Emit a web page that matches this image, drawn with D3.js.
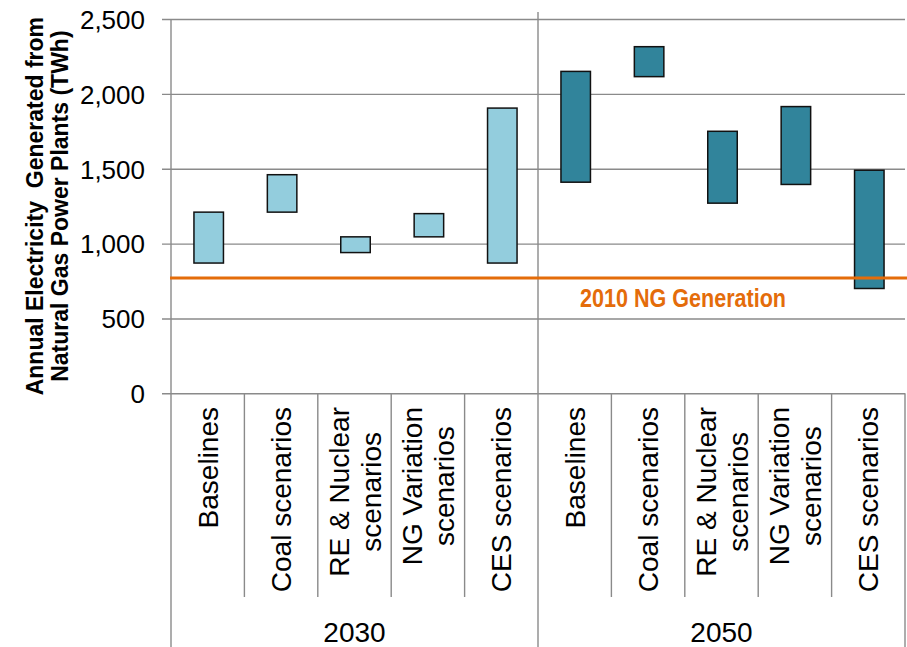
<!DOCTYPE html>
<html>
<head>
<meta charset="utf-8">
<script src="https://cdn.jsdelivr.net/npm/d3@7"></script>
<style>
  body { margin: 0; background: #fff; }
  svg { display: block; font-family: "Liberation Sans", Arial, sans-serif; }
</style>
</head>
<body>
<script>
// scenario groups along the x axis
const years = ['2030', '2050'];
const scenarioLines = [
  ['Baselines'],
  ['Coal scenarios'],
  ['RE & Nuclear', 'scenarios'],
  ['NG Variation', 'scenarios'],
  ['CES scenarios']
];

// range of NG generation, TWh (low / high end of each box)
const low2030 = [870, 1210, 940, 1045, 870];
const high2030 = [1210, 1460, 1045, 1200, 1905];
const low2050 = [1410, 2115, 1270, 1395, 700];
const high2050 = [2150, 2315, 1750, 1915, 1490];

const ng2010 = 770;
const ng2010Label = '2010 NG Generation';
const yTicks = [0, 500, 1000, 1500, 2000, 2500];

const width = 907,
      height = 647,
      plot = { left: 171, right: 905, top: 19, bottom: 393.3 };

const rows = [];
years.forEach(function(year, g) {
  const lo = g === 0 ? low2030 : low2050,
        hi = g === 0 ? high2030 : high2050;
  scenarioLines.forEach(function(lines, i) {
    rows.push({ key: year + '-' + i, year: year, group: g, lines: lines, low: lo[i], high: hi[i] });
  });
});

const svg = d3.select('body')
              .append('svg')
              .attr('width', width)
              .attr('height', height);

const xScale = d3.scaleBand()
                 .domain(rows.map(function(d) { return d.key }))
                 .range([plot.left, plot.right]),
      yScale = d3.scaleLinear()
                 .domain([0, 2500])
                 .range([plot.bottom, plot.top]),
      groupScale = d3.scaleBand()
                     .domain(years)
                     .range([plot.left, plot.right]);

// y axis with gridlines running right to left from the far edge
const yAxis = d3.axisLeft(yScale)
                .tickValues(yTicks)
                .tickSize(plot.right - 162)
                .tickPadding(17)
                .tickFormat(d3.format(','));

const yAxisG = svg.append('g')
                  .attr('transform', 'translate(' + plot.right + ',0)')
                  .call(yAxis);
yAxisG.select('.domain').remove();
yAxisG.selectAll('line').attr('stroke', '#8a8a8a').attr('stroke-width', 1.4);
yAxisG.selectAll('text')
      .attr('fill', '#000')
      .style('font-size', '26px')
      .attr('dy', '0.36em');

// vertical frame lines
const frame = svg.append('g').attr('stroke', '#8a8a8a').attr('stroke-width', 1.4);
frame.append('line')
     .attr('x1', plot.left).attr('x2', plot.left)
     .attr('y1', plot.top).attr('y2', height);
frame.append('line')
     .attr('x1', groupScale('2050')).attr('x2', groupScale('2050'))
     .attr('y1', 12).attr('y2', height);
frame.append('line')
     .attr('x1', plot.right).attr('x2', plot.right)
     .attr('y1', plot.bottom).attr('y2', height);
frame.selectAll('.sep')
     .data(rows.filter(function(d, i) { return i % 5 !== 0 }))
     .enter()
     .append('line')
     .attr('class', 'sep')
     .attr('x1', function(d) { return xScale(d.key) })
     .attr('x2', function(d) { return xScale(d.key) })
     .attr('y1', plot.bottom)
     .attr('y2', 597);

// range boxes
const barWidth = 29.5;
svg.selectAll('.box')
   .data(rows)
   .enter()
   .append('rect')
   .attr('class', 'box')
   .attr('x', function(d) { return xScale(d.key) + xScale.bandwidth() / 2 - barWidth / 2 + 1 })
   .attr('width', barWidth)
   .attr('y', function(d) { return yScale(d.high) })
   .attr('height', function(d) { return yScale(d.low) - yScale(d.high) })
   .attr('fill', function(d) { return d.group === 0 ? '#93CDDD' : '#31849B' })
   .attr('stroke', '#111')
   .attr('stroke-width', 1.5);

// 2010 reference line
svg.append('line')
   .attr('x1', plot.left - 1)
   .attr('x2', plot.right + 2)
   .attr('y1', yScale(ng2010))
   .attr('y2', yScale(ng2010))
   .attr('stroke', '#E46C0A')
   .attr('stroke-width', 3);

svg.append('text')
   .attr('x', 580)
   .attr('y', yScale(ng2010) + 29)
   .attr('fill', '#E46C0A')
   .style('font-family', '"Liberation Sans Narrow", "Arial Narrow", "Liberation Sans", sans-serif')
   .style('font-weight', 'bold')
   .style('font-size', '25px')
   .attr('textLength', 206)
   .attr('lengthAdjust', 'spacingAndGlyphs')
   .text(ng2010Label);

// rotated scenario labels
const catFont = 28,
      lineGap = 32;
const cat = svg.selectAll('.cat')
               .data(rows)
               .enter()
               .append('text')
               .attr('class', 'cat')
               .attr('text-anchor', 'middle')
               .attr('fill', '#000')
               .style('font-size', catFont + 'px');
cat.selectAll('tspan')
   .data(function(d) { return d.lines.map(function(t, j) { return { t: t, j: j, n: d.lines.length } }) })
   .enter()
   .append('tspan')
   .attr('x', 0)
   .attr('y', function(l) { return 0.36 * catFont + (l.j - (l.n - 1) / 2) * lineGap })
   .text(function(l) { return l.t });
cat.each(function(d) {
  let maxLen = 0;
  d3.select(this).selectAll('tspan').each(function() {
    maxLen = Math.max(maxLen, this.getComputedTextLength());
  });
  const cx = xScale(d.key) + xScale.bandwidth() / 2,
        cy = 407 + maxLen / 2;
  d3.select(this).attr('transform', 'translate(' + cx + ',' + cy + ') rotate(-90)');
});

// year labels
svg.selectAll('.year')
   .data(years)
   .enter()
   .append('text')
   .attr('class', 'year')
   .attr('x', function(d) { return groupScale(d) + groupScale.bandwidth() / 2 })
   .attr('y', 642)
   .attr('text-anchor', 'middle')
   .attr('fill', '#000')
   .style('font-size', '28px')
   .text(function(d) { return d });

// y title
const title = svg.append('text')
                 .attr('transform', 'translate(0,' + ((plot.top + plot.bottom) / 2) + ') rotate(-90)')
                 .attr('text-anchor', 'middle')
                 .attr('fill', '#000')
                 .style('font-weight', 'bold')
                 .style('font-size', '23px')
                 .style('white-space', 'pre');
title.append('tspan').attr('x', 0).attr('y', 43).text('Annual Electricity  Generated from');
title.append('tspan').attr('x', 0).attr('y', 68).text('Natural Gas Power Plants (TWh)');
</script>
</body>
</html>
